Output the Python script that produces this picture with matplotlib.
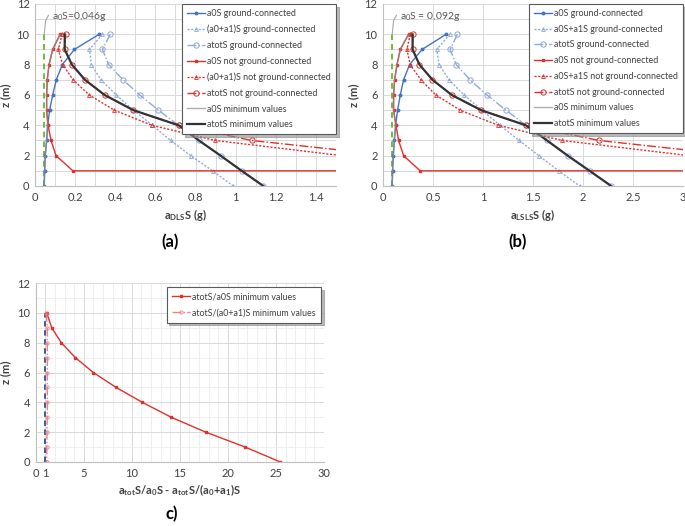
import matplotlib
matplotlib.use("Agg")
import matplotlib.pyplot as plt
from matplotlib.ticker import MultipleLocator, FixedLocator

plt.rcParams['font.family'] = ['Lato', 'DejaVu Sans']
plt.rcParams['mathtext.default'] = 'regular'

# heights (m)
z = [10, 9, 8, 7, 6, 5, 4, 3, 2, 1, 0]
z_red_a0 = [10, 9, 8, 7, 6, 5, 4, 3, 2, 1, 1]

# ---- panel (a) : DLS ----
a_a0_gc = [0.319, 0.196, 0.136, 0.106, 0.088, 0.073, 0.063, 0.058, 0.051, 0.048, 0.046]
a_a01_gc = [0.336, 0.271, 0.281, 0.329, 0.405, 0.490, 0.585, 0.676, 0.776, 0.885, 0.988]
a_atot_gc = [0.375, 0.336, 0.367, 0.439, 0.522, 0.615, 0.716, 0.817, 0.925, 1.030, 1.138]
a_a0_ngc = [0.125, 0.088, 0.070, 0.061, 0.058, 0.058, 0.065, 0.080, 0.105, 0.189, 10.0]
a_a01_ngc = [0.135, 0.116, 0.138, 0.190, 0.270, 0.395, 0.583, 0.899, 1.53, 2.6, 4.5]
a_atot_ngc = [0.153, 0.148, 0.184, 0.249, 0.347, 0.490, 0.716, 1.081, 1.78, 3.0, 5.0]
a_a0_min = [0.125, 0.088, 0.070, 0.061, 0.058, 0.058, 0.063, 0.058, 0.051, 0.048, 0.046]
a_atot_min = [0.148, 0.148, 0.184, 0.249, 0.347, 0.490, 0.716, 0.817, 0.925, 1.030, 1.138]
a_a0S = 0.046

# ---- panel (b) : LSLS ----
b_a0_gc = [0.630, 0.390, 0.266, 0.206, 0.173, 0.146, 0.126, 0.113, 0.103, 0.096, 0.092]
b_a01_gc = [0.668, 0.538, 0.561, 0.661, 0.810, 0.990, 1.170, 1.362, 1.558, 1.757, 1.967]
b_atot_gc = [0.744, 0.671, 0.734, 0.870, 1.040, 1.229, 1.429, 1.641, 1.847, 2.066, 2.282]
b_a0_ngc = [0.256, 0.173, 0.140, 0.116, 0.106, 0.106, 0.130, 0.156, 0.206, 0.372, 20.0]
b_a01_ngc = [0.272, 0.239, 0.272, 0.379, 0.528, 0.771, 1.153, 1.794, 3.06, 5.2, 9.0]
b_atot_ngc = [0.299, 0.296, 0.365, 0.495, 0.688, 0.980, 1.429, 2.160, 3.56, 6.0, 10.0]
b_a0_min = [0.256, 0.173, 0.140, 0.116, 0.106, 0.106, 0.126, 0.113, 0.103, 0.096, 0.092]
b_atot_min = [0.296, 0.296, 0.365, 0.495, 0.688, 0.980, 1.429, 1.641, 1.847, 2.066, 2.282]
b_a0S = 0.092

# ---- panel (c) : ratios ----
c_ratio_a0 = [1.15, 1.67, 2.67, 4.13, 6.0, 8.37, 11.1, 14.1, 17.7, 21.8, 25.45]
c_ratio_a01 = [1.10, 1.20, 1.20, 1.22, 1.20, 1.20, 1.22, 1.20, 1.18, 1.16, 1.15]

labels_a = ["a0S ground-connected", "(a0+a1)S ground-connected", "atotS ground-connected",
            "a0S not ground-connected", "(a0+a1)S not ground-connected", "atotS not ground-connected",
            "a0S minimum values", "atotS minimum values"]
labels_b = ["a0S ground-connected", "a0S+a1S ground-connected", "atotS ground-connected",
            "a0S not ground-connected", "a0S+a1S not ground-connected", "atotS not ground-connected",
            "a0S minimum values", "atotS minimum values"]
labels_c = ["atotS/a0S minimum values", "atotS/(a0+a1)S minimum values"]

BLUE = '#4472C4'
LBLUE = '#8EA9DB'
RED = '#E0302A'
GRAY = '#A6A6A6'
DARK = '#333333'
GREEN = '#70BF3A'
TXT = '#404040'
GRID = '#D9D9D9'


def style_axes(ax):
    for s in ['top', 'right']:
        ax.spines[s].set_visible(False)
    for s in ['left', 'bottom']:
        ax.spines[s].set_color('#BFBFBF')
    ax.tick_params(axis='both', which='both', length=0, labelsize=8, colors=TXT, pad=4)
    ax.grid(True, which='both', color=GRID, linewidth=0.7)
    ax.set_axisbelow(True)


def draw_panel(ax, d, labels, a0S, xmax, xlabel, note):
    a0, a01, atot, a0n, a01n, atotn, a0min, atotmin = d
    ax.plot([a0S, a0S], [0, 10], color=GREEN, lw=1.4, ls=(0, (3, 2)), zorder=2)
    h = []
    h += ax.plot(a0, z, color=BLUE, lw=1.0, marker='o', ms=1.8, label=labels[0])
    h += ax.plot(a01, z, color=LBLUE, lw=1.0, ls=(0, (1.5, 1.2)), marker='^', ms=2.8, mfc='none', mew=0.6,
                 label=labels[1])
    h += ax.plot(atot, z, color=LBLUE, lw=1.0, ls='-.', marker='o', ms=3.8, mfc='none', mew=0.7, label=labels[2])
    h += ax.plot(a0n, z_red_a0, color=RED, lw=1.0, marker='s', ms=1.8, label=labels[3])
    h += ax.plot(a01n, z, color=RED, lw=1.0, ls=(0, (1.5, 1.2)), marker='^', ms=2.8, mfc='none', mew=0.6,
                 label=labels[4])
    h += ax.plot(atotn, z, color=RED, lw=1.0, ls='-.', marker='o', ms=3.8, mfc='none', mew=0.7, label=labels[5])
    h += ax.plot(a0min, z, color='#8C8C8C', lw=1.0, alpha=0.7, label=labels[6])
    h += ax.plot(atotmin, z, color=DARK, lw=1.6, label=labels[7])
    # leader line to the a0S note
    ax.plot([a0S, a0S * 1.15, a0S * 1.45], [10, 10.9, 11.25], color=GRAY, lw=0.8)
    ax.text(a0S * 1.85, 11.2, note, fontsize=7.5, color='#595959', va='center')
    ax.set_xlim(0, xmax)
    ax.set_ylim(0, 12)
    ax.yaxis.set_major_locator(MultipleLocator(2))
    ax.yaxis.set_minor_locator(MultipleLocator(1))
    ax.set_xlabel(xlabel, fontsize=8, fontweight='bold', color=TXT, labelpad=3)
    ax.set_ylabel("z (m)", fontsize=8, fontweight='bold', color=TXT, labelpad=4)
    style_axes(ax)
    leg = ax.legend(handles=h, loc='upper right', bbox_to_anchor=(1.0, 1.0), borderaxespad=0,
                    fontsize=6.4, frameon=True, fancybox=False, handlelength=2.0, handletextpad=0.3,
                    labelspacing=0.76, borderpad=0.55, labelcolor=TXT,
                    shadow={'color': '0.55', 'alpha': 0.6, 'ox': 2, 'oy': -2})
    leg.get_frame().set_edgecolor('#595959')
    leg.get_frame().set_linewidth(0.8)


fig = plt.figure(figsize=(6.85, 5.26), dpi=100)

ax_a = fig.add_axes([0.0511, 0.6464, 0.4394, 0.346])
draw_panel(ax_a, [a_a0_gc, a_a01_gc, a_atot_gc, a_a0_ngc, a_a01_ngc, a_atot_ngc, a_a0_min, a_atot_min],
           labels_a, a_a0S, 1.5, r"a$_{DLS}$S (g)", r"a$_0$S=0,046g")
ax_a.set_xticks([0, 0.2, 0.4, 0.6, 0.8, 1.0, 1.2, 1.4])
ax_a.set_xticklabels(['0', '0.2', '0.4', '0.6', '0.8', '1', '1.2', '1.4'])
ax_a.xaxis.set_minor_locator(MultipleLocator(0.1))

ax_b = fig.add_axes([0.5591, 0.6464, 0.438, 0.346])
draw_panel(ax_b, [b_a0_gc, b_a01_gc, b_atot_gc, b_a0_ngc, b_a01_ngc, b_atot_ngc, b_a0_min, b_atot_min],
           labels_b, b_a0S, 3.0, r"a$_{LSLS}$S (g)", r"a$_0$S = 0,092g")
ax_b.set_xticks([0, 0.5, 1, 1.5, 2, 2.5, 3])
ax_b.set_xticklabels(['0', '0.5', '1', '1.5', '2', '2.5', '3'])

ax_c = fig.add_axes([0.0521, 0.1217, 0.421, 0.340])
ax_c.plot([1, 1], [0, 10], color='#2F4F8F', lw=1.3, ls=(0, (3, 2)), zorder=2)
hc = []
hc += ax_c.plot(c_ratio_a0, z, color=RED, lw=1.0, marker='s', ms=1.8, label=labels_c[0])
hc += ax_c.plot(c_ratio_a01, z, color='#F08080', lw=1.0, ls='-.', marker='o', ms=2.4, mfc='none', mew=0.6,
                label=labels_c[1])
ax_c.set_xlim(0, 30)
ax_c.set_ylim(0, 12)
ax_c.xaxis.set_major_locator(FixedLocator([0, 1, 5, 10, 15, 20, 25, 30]))
ax_c.xaxis.set_minor_locator(MultipleLocator(1))
ax_c.yaxis.set_major_locator(MultipleLocator(2))
ax_c.yaxis.set_minor_locator(MultipleLocator(1))
style_axes(ax_c)
ax_c.grid(True, which='minor', color='#EDEDED', linewidth=0.6)
ax_c.set_xlabel(r"a$_{tot}$S/a$_0$S - a$_{tot}$S/(a$_0$+a$_1$)S", fontsize=8, fontweight='bold',
                color=TXT, labelpad=3)
ax_c.set_ylabel("z (m)", fontsize=8, fontweight='bold', color=TXT, labelpad=4)
leg_c = ax_c.legend(handles=hc, loc='upper right', bbox_to_anchor=(0.99, 0.98), borderaxespad=0,
                    fontsize=6.4, frameon=True, fancybox=False, handlelength=2.0, handletextpad=0.3,
                    labelspacing=0.8, borderpad=0.6, labelcolor=TXT,
                    shadow={'color': '0.55', 'alpha': 0.6, 'ox': 2, 'oy': -2})
leg_c.get_frame().set_edgecolor('#595959')
leg_c.get_frame().set_linewidth(0.8)

fig.text(170 / 685, 1 - 242 / 526, "(a)", fontsize=12, fontweight='bold', ha='center', va='center')
fig.text(518 / 685, 1 - 242 / 526, "(b)", fontsize=12, fontweight='bold', ha='center', va='center')
fig.text(172 / 685, 1 - 514 / 526, "c)", fontsize=12, fontweight='bold', ha='center', va='center')

fig.savefig("out.png", dpi=100)
